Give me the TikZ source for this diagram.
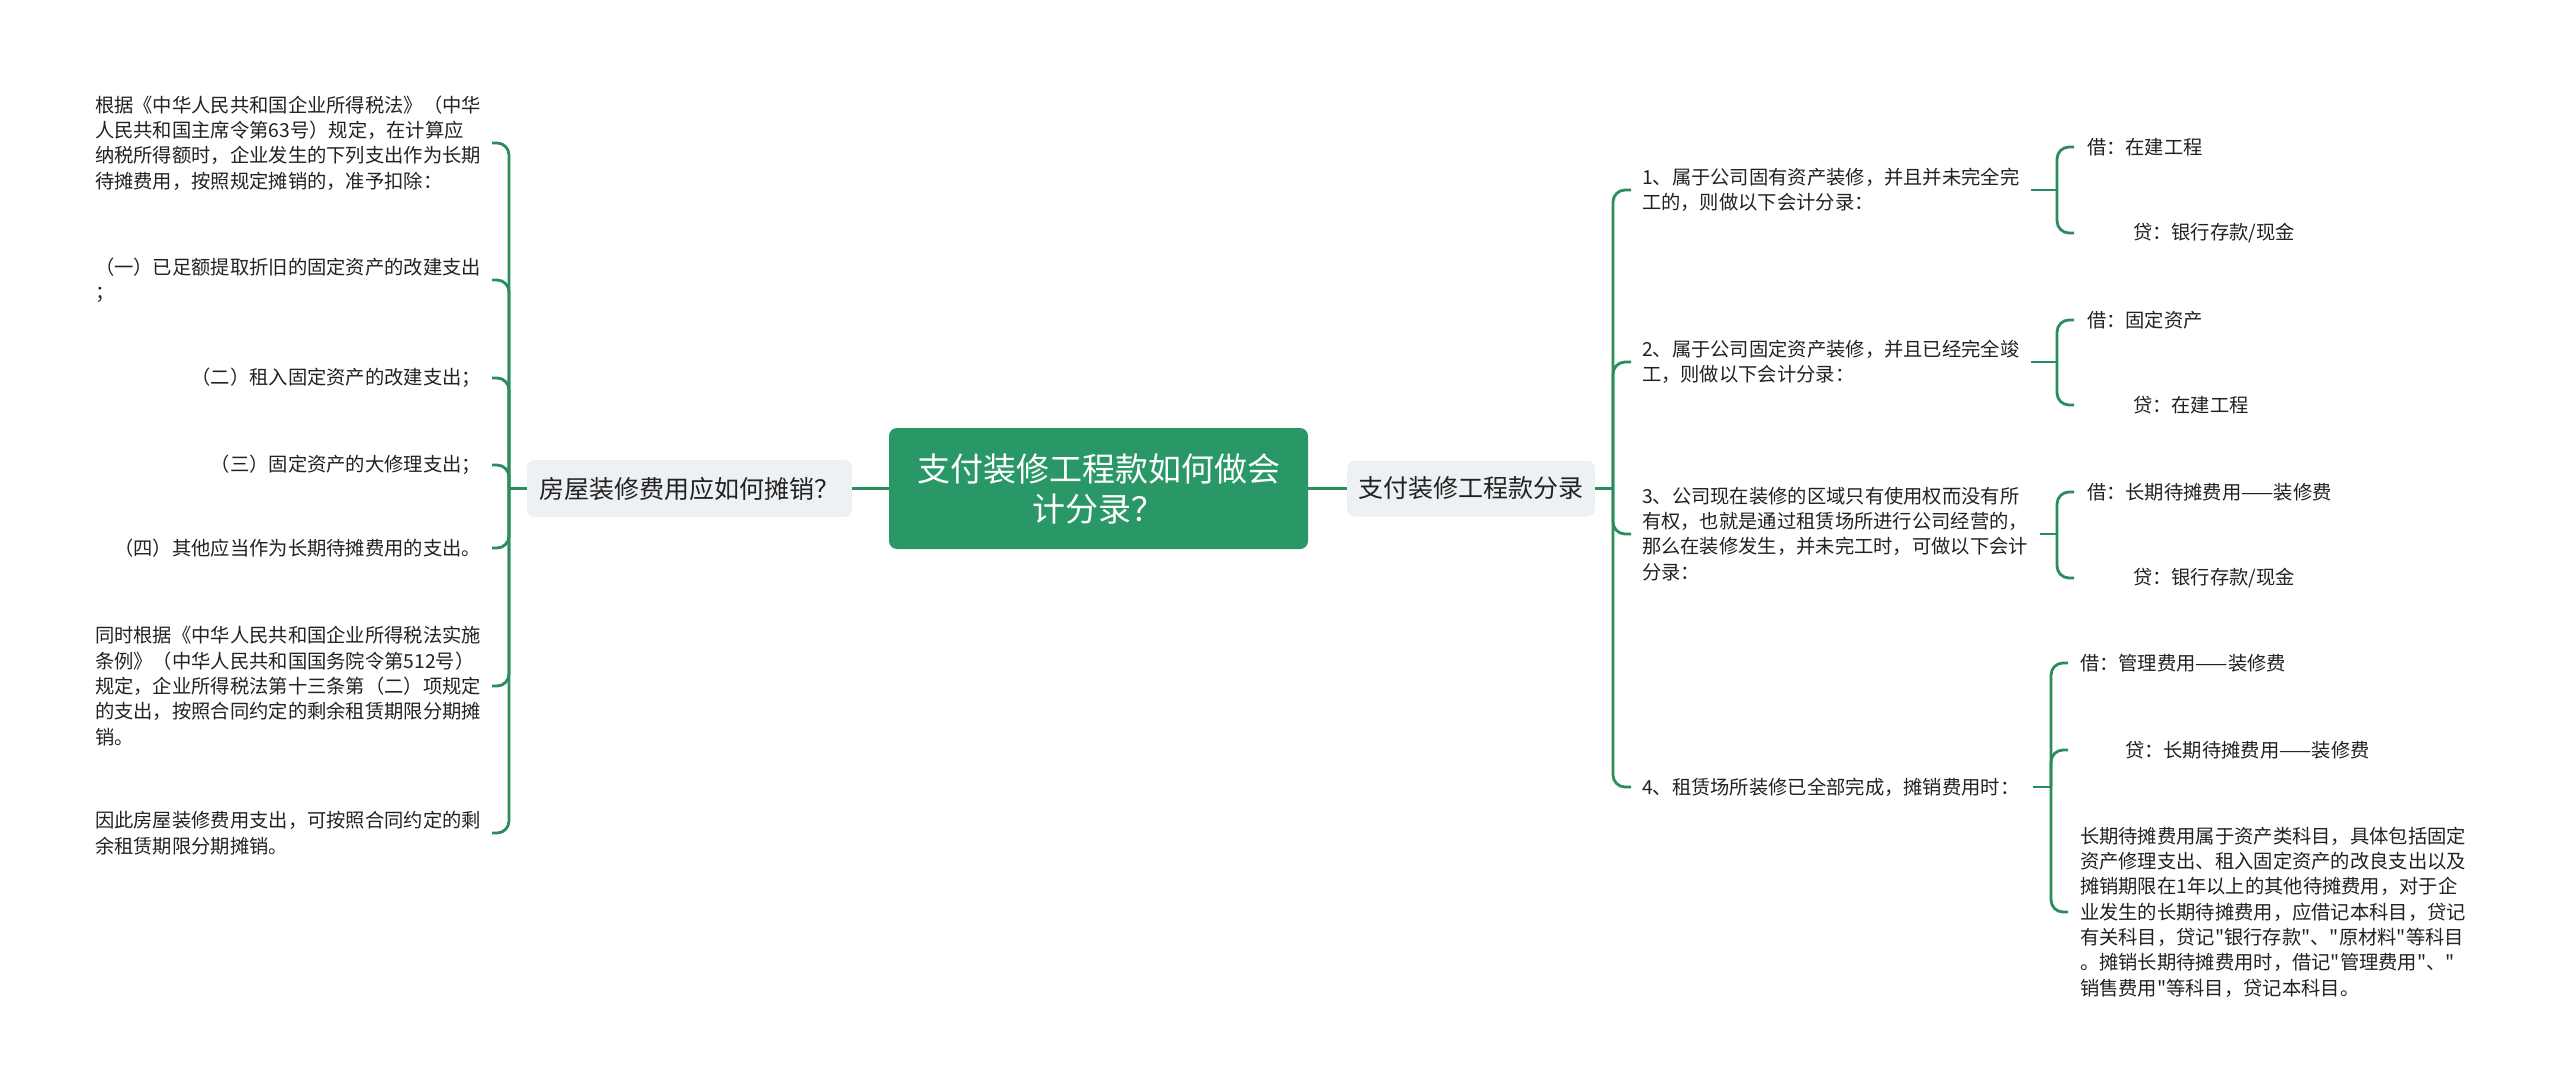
\documentclass[tikz,border=0pt]{standalone}
\usepackage{fontspec}
\newfontfamily\cjkfont{Noto Sans CJK SC}
\usetikzlibrary{calc}
\definecolor{mmgreen}{HTML}{2A9866}
\definecolor{mmline}{HTML}{2B8C5E}
\definecolor{mmgray}{HTML}{EEF1F4}
\definecolor{mmtext}{HTML}{222222}
\begin{document}
\begin{tikzpicture}[x=1pt,y=-1pt,
  leaf/.style={inner sep=0pt, outer sep=0pt, align=left, text=mmtext, font=\cjkfont\fontsize{19.3}{25.3}\selectfont},
  topic/.style={fill=mmgray, rounded corners=8pt, inner sep=0pt, text=mmtext, font=\cjkfont\fontsize{25}{30}\selectfont},
  rootbox/.style={fill=mmgreen, rounded corners=8pt, text=white, align=center, font=\cjkfont\fontsize{33}{40}\selectfont, minimum width=419pt, minimum height=121pt, inner sep=0pt},
  link/.style={draw=mmline, line width=2.8pt, rounded corners=12pt}
]
\useasboundingbox (0,0) rectangle (2560,1091);
\fill[white] (0,0) rectangle (2560,1091);

% central topics
\node[rootbox] (root) at (1098.5,488.5) {支付装修工程款如何做会\\计分录？};
\node[topic, minimum width=325pt, minimum height=57pt] (L) at (689.5,488.5) {房屋装修费用应如何摊销？};
\node[topic, minimum width=248pt, minimum height=56pt] (R) at (1471,488.5) {支付装修工程款分录};

% left leaves
\node[leaf, anchor=east] (l1) at (481,143) {根据《中华人民共和国企业所得税法》（中华\\人民共和国主席令第63号）规定，在计算应\\纳税所得额时，企业发生的下列支出作为长期\\待摊费用，按照规定摊销的，准予扣除：};
\node[leaf, anchor=east] (l2) at (481,280) {（一）已足额提取折旧的固定资产的改建支出\\；};
\node[leaf, anchor=east] (l3) at (481,378) {（二）租入固定资产的改建支出；};
\node[leaf, anchor=east] (l4) at (481,465) {（三）固定资产的大修理支出；};
\node[leaf, anchor=east] (l5) at (481,548) {（四）其他应当作为长期待摊费用的支出。};
\node[leaf, anchor=east] (l6) at (481,686) {同时根据《中华人民共和国企业所得税法实施\\条例》（中华人民共和国国务院令第512号）\\规定，企业所得税法第十三条第（二）项规定\\的支出，按照合同约定的剩余租赁期限分期摊\\销。};
\node[leaf, anchor=east] (l7) at (481,833) {因此房屋装修费用支出，可按照合同约定的剩\\余租赁期限分期摊销。};

% right level 2
\node[leaf, anchor=west] (c1) at (1642,190) {1、属于公司固有资产装修，并且并未完全完\\工的，则做以下会计分录：};
\node[leaf, anchor=west] (c2) at (1642,362) {2、属于公司固定资产装修，并且已经完全竣\\工，则做以下会计分录：};
\node[leaf, anchor=west] (c3) at (1642,534) {3、公司现在装修的区域只有使用权而没有所\\有权，也就是通过租赁场所进行公司经营的，\\那么在装修发生，并未完工时，可做以下会计\\分录：};
\node[leaf, anchor=west] (c4) at (1642,787) {4、租赁场所装修已全部完成，摊销费用时：};

% right level 3
\node[leaf, anchor=west] (c1a) at (2087,147) {借：在建工程};
\node[leaf, anchor=west] (c1b) at (2087,233) {\hspace*{46pt}贷：银行存款/现金};
\node[leaf, anchor=west] (c2a) at (2087,320) {借：固定资产};
\node[leaf, anchor=west] (c2b) at (2087,405) {\hspace*{46pt}贷：在建工程};
\node[leaf, anchor=west] (c3a) at (2087,492) {借：长期待摊费用——装修费};
\node[leaf, anchor=west] (c3b) at (2087,578) {\hspace*{46pt}贷：银行存款/现金};
\node[leaf, anchor=west] (c4a) at (2080,663) {借：管理费用——装修费};
\node[leaf, anchor=west] (c4b) at (2080,750) {\hspace*{45pt}贷：长期待摊费用——装修费};
\node[leaf, anchor=west] (c4c) at (2080,912) {长期待摊费用属于资产类科目，具体包括固定\\资产修理支出、租入固定资产的改良支出以及\\摊销期限在1年以上的其他待摊费用，对于企\\业发生的长期待摊费用，应借记本科目，贷记\\有关科目，贷记"银行存款"、"原材料"等科目\\。摊销长期待摊费用时，借记"管理费用"、"\\销售费用"等科目，贷记本科目。};

% junctions
\coordinate (jL) at (509,488.5);
\coordinate (jR) at (1613,488.5);
\coordinate (j1) at (2057,190);
\coordinate (j2) at (2057,362);
\coordinate (j3) at (2057,534);
\coordinate (j4) at (2051,787);

% connectors
\draw[link] (root.west) -- (L.east);
\draw[link] (root.east) -- (R.west);
\draw[link] (L.west) -- (jL);
\foreach \n in {l1,l2,l3,l4,l5,l6,l7} \draw[link] (jL) |- ([xshift=11pt]\n.east);
\draw[link] (R.east) -- (jR);
\foreach \n in {c1,c2,c3,c4} \draw[link] (jR) |- ([xshift=-11pt]\n.west);
\draw[link] ([xshift=12pt]c1.east) -- (j1);
\draw[link] ([xshift=12pt]c2.east) -- (j2);
\draw[link] ([xshift=12pt]c3.east) -- (j3);
\draw[link] ([xshift=14pt]c4.east) -- (j4);
\foreach \n in {c1a,c1b} \draw[link] (j1) |- ([xshift=-13pt]\n.west);
\foreach \n in {c2a,c2b} \draw[link] (j2) |- ([xshift=-13pt]\n.west);
\foreach \n in {c3a,c3b} \draw[link] (j3) |- ([xshift=-13pt]\n.west);
\foreach \n in {c4a,c4b,c4c} \draw[link] (j4) |- ([xshift=-12pt]\n.west);
\end{tikzpicture}
\end{document}
